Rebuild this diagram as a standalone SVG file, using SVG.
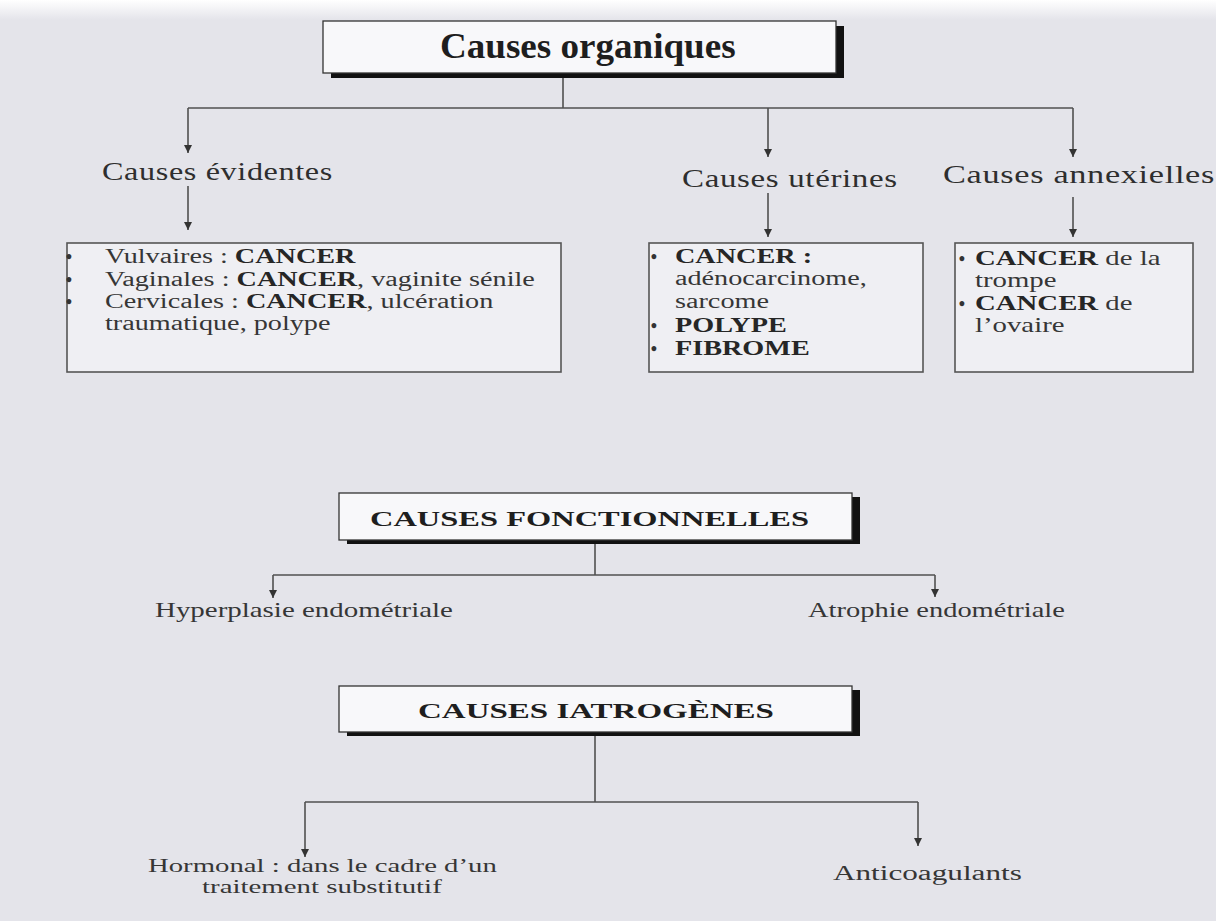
<svg xmlns="http://www.w3.org/2000/svg" width="1216" height="921" viewBox="0 0 1216 921">
  <defs>
    <linearGradient id="topfade" x1="0" y1="0" x2="0" y2="1">
      <stop offset="0" stop-color="#ffffff"/>
      <stop offset="1" stop-color="#e4e4ea"/>
    </linearGradient>
    <marker id="arr" markerWidth="8" markerHeight="8" refX="8" refY="4" orient="auto" markerUnits="userSpaceOnUse">
      <path d="M0,0 L8,4 L0,8 z" fill="#333"/>
    </marker>
    <style>
      text { font-family: "Liberation Serif", "Times New Roman", serif; fill: #363636; }
      .b { font-weight: bold; fill: #262626; }
      .title { font-weight: bold; fill: #1e1e1e; }
      .lbl { font-size: 26px; letter-spacing: 0.5px; fill: #2e2e2e; }
      .item { font-size: 20px; }
      .bul { font-size: 18px; font-weight: bold; fill: #333; }
      .sub { font-size: 20px; }
      .box { fill: #efeff3; stroke: #555; stroke-width: 1.6; }
      .tbox { fill: #f8f8fa; stroke: #333; stroke-width: 1.3; }
      .shadow { fill: #111; }
      .conn { stroke: #505050; stroke-width: 1.6; fill: none; }
      .conn-a { stroke: #505050; stroke-width: 1.6; fill: none; marker-end: url(#arr); }
    </style>
  </defs>

  <rect x="0" y="0" width="1216" height="921" fill="#e4e4ea"/>
  <rect x="0" y="0" width="1216" height="20" fill="url(#topfade)"/>

  <g id="connectors">
    <line class="conn" x1="563" y1="73" x2="563" y2="108"/>
    <line class="conn" x1="188" y1="108" x2="1073" y2="108"/>
    <line class="conn-a" x1="188" y1="108" x2="188" y2="153"/>
    <line class="conn-a" x1="768" y1="108" x2="768" y2="157"/>
    <line class="conn-a" x1="1073" y1="108" x2="1073" y2="157"/>
    <line class="conn-a" x1="188" y1="186" x2="188" y2="230"/>
    <line class="conn-a" x1="768" y1="193" x2="768" y2="237"/>
    <line class="conn-a" x1="1073" y1="197" x2="1073" y2="237"/>

    <line class="conn" x1="595" y1="544" x2="595" y2="575"/>
    <line class="conn" x1="273" y1="575" x2="935" y2="575"/>
    <line class="conn-a" x1="273" y1="575" x2="273" y2="598"/>
    <line class="conn-a" x1="935" y1="575" x2="935" y2="597"/>

    <line class="conn" x1="595" y1="736" x2="595" y2="802"/>
    <line class="conn" x1="305" y1="802" x2="918" y2="802"/>
    <line class="conn-a" x1="305" y1="802" x2="305" y2="857"/>
    <line class="conn-a" x1="918" y1="802" x2="918" y2="846"/>
  </g>

  <g id="causes-organiques">
    <rect class="shadow" x="331" y="26" width="513" height="52"/>
    <rect class="tbox" x="323" y="21" width="513" height="52"/>
    <text class="title" font-size="36" transform="translate(440,58) scale(1.03,1)">Causes organiques</text>
  </g>

  <g id="causes-evidentes">
    <text class="lbl" transform="translate(102,180) scale(1.24,1)">Causes évidentes</text>
  </g>

  <g id="causes-uterines">
    <text class="lbl" transform="translate(682,187) scale(1.27,1)">Causes utérines</text>
  </g>

  <g id="causes-annexielles">
    <text class="lbl" transform="translate(943,183) scale(1.32,1)">Causes annexielles</text>
  </g>

  <g id="box-evidentes">
    <rect class="box" x="67" y="243" width="494" height="129"/>
    <text class="bul" x="69" y="263" text-anchor="middle">•</text>
    <text class="bul" x="69" y="286" text-anchor="middle">•</text>
    <text class="bul" x="69" y="308" text-anchor="middle">•</text>
    <text class="item" transform="translate(105,263) scale(1.41,1)">Vulvaires : <tspan class="b">CANCER</tspan></text>
    <text class="item" transform="translate(105,286) scale(1.41,1)">Vaginales : <tspan class="b">CANCER</tspan>, vaginite sénile</text>
    <text class="item" transform="translate(105,308) scale(1.41,1)">Cervicales : <tspan class="b">CANCER</tspan>, ulcération</text>
    <text class="item" transform="translate(105,330) scale(1.41,1)">traumatique, polype</text>
  </g>

  <g id="box-uterines">
    <rect class="box" x="649" y="243" width="274" height="129"/>
    <text class="bul" x="654" y="263" text-anchor="middle">•</text>
    <text class="bul" x="654" y="332" text-anchor="middle">•</text>
    <text class="bul" x="654" y="355" text-anchor="middle">•</text>
    <text class="item b" transform="translate(675,263) scale(1.41,1)">CANCER :</text>
    <text class="item" transform="translate(675,285) scale(1.41,1)">adénocarcinome,</text>
    <text class="item" transform="translate(675,308) scale(1.41,1)">sarcome</text>
    <text class="item b" transform="translate(675,332) scale(1.41,1)">POLYPE</text>
    <text class="item b" transform="translate(675,355) scale(1.41,1)">FIBROME</text>
  </g>

  <g id="box-annexielles">
    <rect class="box" x="955" y="243" width="238" height="129"/>
    <text class="bul" x="962" y="265" text-anchor="middle">•</text>
    <text class="bul" x="962" y="310" text-anchor="middle">•</text>
    <text class="item" transform="translate(975,265) scale(1.44,1)"><tspan class="b">CANCER</tspan> de la</text>
    <text class="item" transform="translate(975,287) scale(1.44,1)">trompe</text>
    <text class="item" transform="translate(975,310) scale(1.44,1)"><tspan class="b">CANCER</tspan> de</text>
    <text class="item" transform="translate(975,332) scale(1.44,1)">l’ovaire</text>
  </g>

  <g id="causes-fonctionnelles">
    <rect class="shadow" x="347" y="497" width="513" height="47"/>
    <rect class="tbox" x="339" y="493" width="513" height="47"/>
    <text class="title" font-size="22" transform="translate(370,526) scale(1.475,1)">CAUSES FONCTIONNELLES</text>
  </g>

  <g id="hyperplasie">
    <text class="sub" transform="translate(155,617) scale(1.447,1)">Hyperplasie endométriale</text>
  </g>

  <g id="atrophie">
    <text class="sub" transform="translate(808,617) scale(1.424,1)">Atrophie endométriale</text>
  </g>

  <g id="causes-iatrogenes">
    <rect class="shadow" x="347" y="690" width="513" height="46"/>
    <rect class="tbox" x="339" y="686" width="513" height="46"/>
    <text class="title" font-size="22" transform="translate(418,718) scale(1.5,1)">CAUSES IATROGÈNES</text>
  </g>

  <g id="hormonal">
    <text class="item" style="font-size:19px" transform="translate(148,872) scale(1.513,1)">Hormonal : dans le cadre d’un</text>
    <text class="item" style="font-size:19px" transform="translate(202,893) scale(1.52,1)">traitement substitutif</text>
  </g>

  <g id="anticoagulants">
    <text class="sub" transform="translate(833,880) scale(1.56,1)">Anticoagulants</text>
  </g>
</svg>
